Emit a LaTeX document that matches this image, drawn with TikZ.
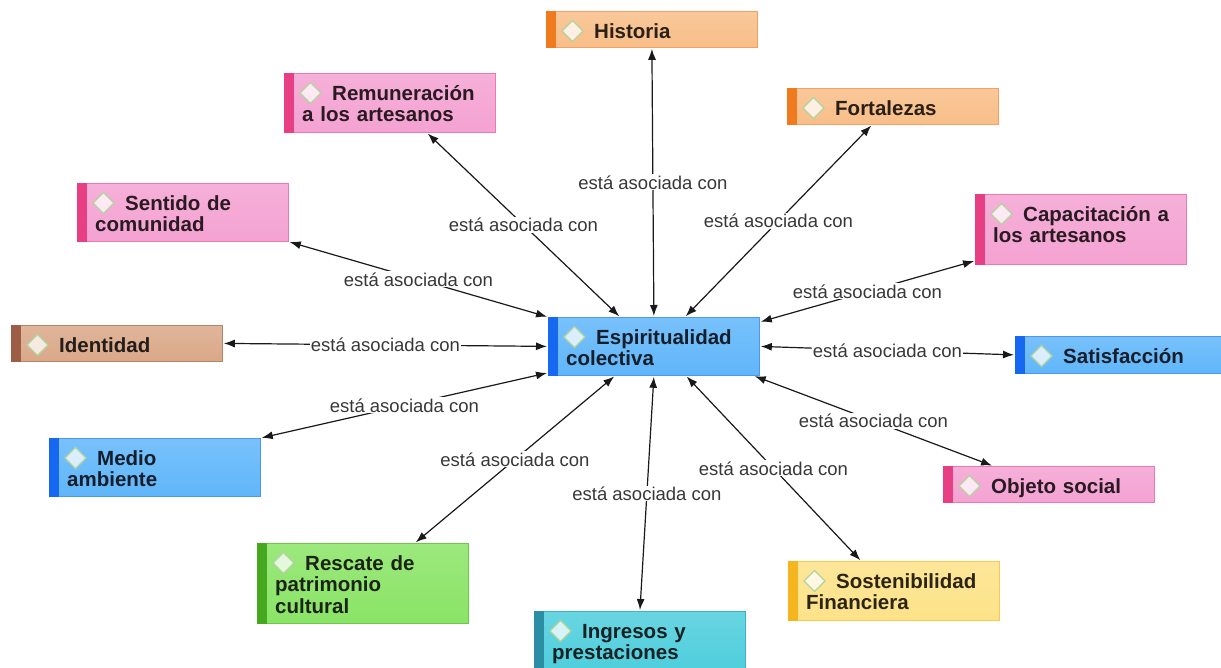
\documentclass[tikz,border=0pt]{standalone}
\usepackage{fontspec}
\setmainfont{Liberation Sans}
\usetikzlibrary{arrows.meta}

% colour families: fill, left bar, outline
\definecolor{orangefill}{HTML}{F8BE88}\definecolor{orangebar}{HTML}{F07A1E}\definecolor{orangeline}{HTML}{F4A060}
\definecolor{pinkfill}{HTML}{F4A2D2}\definecolor{pinkbar}{HTML}{E83E84}\definecolor{pinkline}{HTML}{EE78B0}
\definecolor{brownfill}{HTML}{DAA888}\definecolor{brownbar}{HTML}{9C5C46}\definecolor{brownline}{HTML}{B88468}
\definecolor{bluefill}{HTML}{60B6FA}\definecolor{bluebar}{HTML}{1668F0}\definecolor{blueline}{HTML}{4A98F2}
\definecolor{greenfill}{HTML}{8AE466}\definecolor{greenbar}{HTML}{46A81E}\definecolor{greenline}{HTML}{6CC848}
\definecolor{cyanfill}{HTML}{4ECEDC}\definecolor{cyanbar}{HTML}{2C8EA4}\definecolor{cyanline}{HTML}{38B4C6}
\definecolor{yellowfill}{HTML}{FDE288}\definecolor{yellowbar}{HTML}{F4B51E}\definecolor{yellowline}{HTML}{F6CC4A}
\definecolor{iconline}{HTML}{B2D49C}

\tikzset{
  conceptbox/.style={rectangle, anchor=north west, minimum width=211pt, inner sep=0pt, line width=0.8pt},
  conceptlabel/.style={anchor=north west, inner sep=0pt, text width=186pt, align=left,
    font=\fontsize{20.5}{21.5}\selectfont\bfseries},
  icon/.style={fill=white, fill opacity=0.75, draw=iconline, line width=1.2pt, line join=miter},
  link/.style={{Latex[length=11pt,width=8pt]}-{Latex[length=11pt,width=8pt]}, line width=1.2pt, black!90, shorten <=1pt, shorten >=1pt},
  lab/.style={fill=white, inner sep=1pt, text=black!78, font=\fontsize{18.5}{20}\selectfont}
}

% #1 name, #2 x, #3 y (top left), #4 colour family, #5 height, #6 text
\newcommand\concept[6]{%
  \node[conceptbox, minimum height=#5pt, top color=#4fill!85!white, bottom color=#4fill, draw=#4line] (#1) at (#2,#3) {};
  \fill[#4bar] ([xshift=-0.4pt,yshift=0.4pt]#1.north west) rectangle ([xshift=10pt,yshift=-0.4pt]#1.south west);
  \filldraw[icon] ([xshift=16pt,yshift=-20pt]#1.north west) -- ++(10.5,-10.5) -- ++(10.5,10.5) -- ++(-10.5,10.5) -- cycle;
  \node[conceptlabel, text=#4bar!10!black!92] at ([xshift=18pt,yshift=-8pt]#1.north west) {\rule{0pt}{19pt}\hspace*{30pt}#6};
}

\begin{document}
\begin{tikzpicture}[x=1pt, y=-1pt]
\useasboundingbox[fill=white] (0,0) rectangle (1221,668);

\concept{hist}{546}{11}{orange}{36}{Historia}
\concept{remun}{284}{73}{pink}{59}{Remuneración\\a los artesanos}
\concept{fort}{787}{88}{orange}{36}{Fortalezas}
\concept{sent}{77}{183}{pink}{58}{Sentido de\\comunidad}
\concept{capac}{975}{194}{pink}{70}{Capacitación a\\los artesanos}
\concept{ident}{11}{325}{brown}{36}{Identidad}
\concept{esp}{548}{317}{blue}{58}{Espiritualidad\\colectiva}
\concept{satis}{1015}{336}{blue}{37}{Satisfacción}
\concept{medio}{49}{438}{blue}{58}{Medio\\ambiente}
\concept{objeto}{943}{466}{pink}{36}{Objeto social}
\concept{rescate}{257}{543}{green}{80}{Rescate de\\patrimonio\\cultural}
\concept{ingresos}{534}{611}{cyan}{60}{Ingresos y\\prestaciones}
\concept{sosten}{788}{561}{yellow}{59}{Sostenibilidad\\Financiera}

\draw[link] (hist.south) -- node[lab]{está asociada con} (esp.north);
\draw[link] ([xshift=143pt]remun.south west) -- node[lab]{está asociada con} ([xshift=72pt]esp.north west);
\draw[link] ([xshift=85pt]fort.south west) -- node[lab]{está asociada con} ([xshift=137pt]esp.north west);
\draw[link] (sent.south east) -- node[lab]{está asociada con} (esp.north west);
\draw[link] ([yshift=4pt]capac.south west) -- node[lab]{está asociada con} ([yshift=-5pt]esp.north east);
\draw[link] (ident.east) -- node[lab]{está asociada con} (esp.west);
\draw[link] (esp.east) -- node[lab]{está asociada con} (satis.west);
\draw[link] (medio.north east) -- node[lab]{está asociada con} ([yshift=3pt]esp.south west);
\draw[link] ([xshift=-6pt]esp.south east) -- node[lab]{está asociada con} ([xshift=50pt]objeto.north west);
\draw[link] ([xshift=158pt]rescate.north west) -- node[lab]{está asociada con} ([xshift=67pt]esp.south west);
\draw[link] (esp.south) -- node[lab]{está asociada con} (ingresos.north);
\draw[link] ([xshift=138pt]esp.south west) -- node[lab]{está asociada con} ([xshift=73pt]sosten.north west);
\end{tikzpicture}
\end{document}
